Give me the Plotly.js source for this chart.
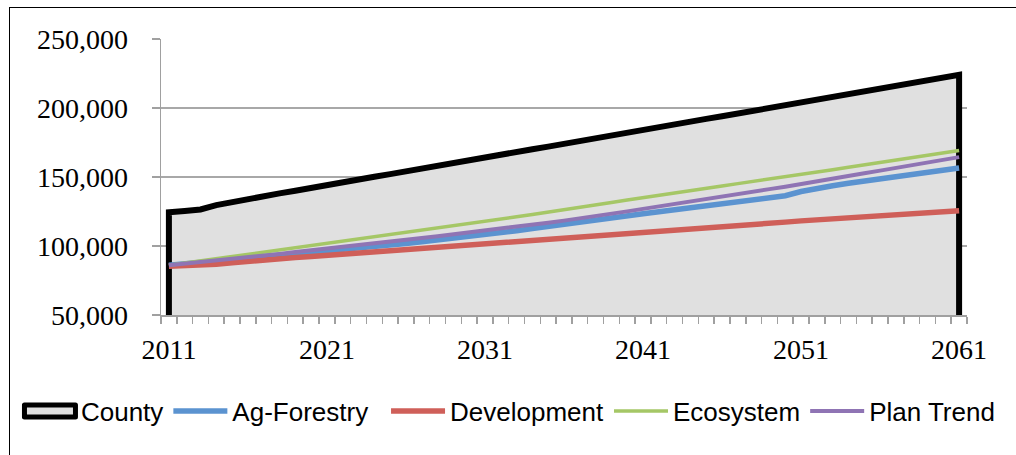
<!DOCTYPE html>
<html>
<head>
<meta charset="utf-8">
<script src="https://cdn.plot.ly/plotly-3.0.1.min.js"></script>
<style>
  html, body { margin: 0; padding: 0; overflow: hidden; background: #fff; }
  #wrap { position: relative; width: 1016px; height: 455px; overflow: hidden; }
  #chart { position: absolute; left: 0; top: 0; width: 1016px; height: 455px; }
  #frame { position: absolute; left: 9px; top: 7px; width: 1100px; height: 500px;
           border: 1px solid #000; pointer-events: none; box-sizing: border-box; }
</style>
</head>
<body>
<div id="wrap">
  <div id="chart"></div>
  <div id="frame"></div>
</div>
<script>
// Projection years 2011-2061
const years = [];
for (let y = 2011; y <= 2061; y++) years.push(y);

// County total
const county = [
  124500, 125400, 126500, 129600, 132000, 134100, 136000, 138100, 140000, 142200,
  144300, 146100, 148000, 150200, 152100, 154200, 156000, 158200, 160100, 162000,
  164000, 166100, 168000, 170100, 172000, 174100, 176000, 178000, 180100, 182000,
  184100, 186000, 188100, 190000, 192100, 194000, 196000, 198100, 200000, 202100,
  204000, 206000, 208100, 210000, 212100, 214000, 216000, 218100, 220000, 222000,
  224000
];

// Scenario series
const agForestry = [
  86000, 87000, 88100, 89200, 90300, 91400, 92500, 93400, 94400, 95300,
  96300, 97200, 98200, 99200, 100500, 101800, 103100, 104300, 105600, 106900,
  108300, 109700, 111100, 112600, 114000, 115400, 116900, 118500, 120100, 121700,
  123300, 124800, 126300, 127700, 129100, 130600, 132000, 133400, 134800, 136400,
  139500, 142000, 143700, 145500, 147200, 148700, 150300, 151800, 153400, 154900,
  156500
];

const development = [
  85300, 85500, 85900, 86800, 87800, 88900, 90100, 90800, 91600, 92400,
  93200, 94000, 94800, 95600, 96400, 97200, 98000, 98900, 99700, 100500,
  101300, 102100, 102900, 103700, 104500, 105300, 106100, 106900, 107600, 108400,
  109100, 109900, 110800, 111800, 112700, 113700, 114600, 115600, 116500, 117300,
  118200, 119000, 119900, 120700, 121500, 122200, 122900, 123500, 124100, 124800,
  125500
];

const ecosystem = [
  86000, 87600, 89200, 90800, 92400, 94000, 95600, 97100, 98600, 100100,
  101600, 103100, 104600, 106200, 107900, 109600, 111300, 113000, 114600, 116300,
  117900, 119600, 121200, 122900, 124500, 126200, 127900, 129700, 131500, 133300,
  135100, 136900, 138600, 140200, 141900, 143500, 145200, 146800, 148500, 150200,
  151900, 153600, 155300, 157000, 158700, 160400, 162200, 163900, 165700, 167400,
  169200
];

const planTrend = [
  86000, 87100, 88300, 89500, 90700, 91900, 93100, 94300, 95600, 96800,
  98100, 99300, 100600, 101900, 103200, 104500, 105800, 107100, 108400, 109800,
  111200, 112600, 114000, 115400, 116900, 118400, 119900, 121500, 123300, 125100,
  126900, 128600, 130400, 132200, 134000, 135800, 137600, 139400, 141200, 143000,
  144800, 146700, 148700, 150700, 152700, 154600, 156500, 158500, 160500, 162400,
  164400
];

const yMin = 50000, yMax = 250000;
const xTickVals = [2011, 2021, 2031, 2041, 2051, 2061];

// County drawn as an area down to the axis floor, outlined on top and both sides
const countyX = [years[0]].concat(years, [years[years.length - 1]]);
const countyY = [yMin].concat(county, [yMin]);

const traces = [
  {
    name: 'County', x: countyX, y: countyY, type: 'scatter', mode: 'lines',
    fill: 'toself', fillcolor: '#e0e0e0',
    line: { color: '#000000', width: 6 }, legend: 'legend'
  },
  { name: 'Ag-Forestry', x: years, y: agForestry, type: 'scatter', mode: 'lines',
    line: { color: '#5b93d0', width: 5.5 }, legend: 'legend' },
  { name: 'Development', x: years, y: development, type: 'scatter', mode: 'lines',
    line: { color: '#cf5f59', width: 5.5 }, legend: 'legend2' },
  { name: 'Ecosystem', x: years, y: ecosystem, type: 'scatter', mode: 'lines',
    line: { color: '#a5c766', width: 3.5 }, legend: 'legend2' },
  { name: 'Plan Trend', x: years, y: planTrend, type: 'scatter', mode: 'lines',
    line: { color: '#8f74b4', width: 4 }, legend: 'legend2' }
];

const legendFont = { family: 'Liberation Sans, Arial, sans-serif', size: 26, color: '#000' };
const legendBase = {
  orientation: 'h', xanchor: 'left', y: -0.348, yanchor: 'middle',
  font: legendFont, itemwidth: 54, traceorder: 'normal', bgcolor: 'rgba(0,0,0,0)'
};

const layout = {
  width: 1016, height: 455,
  margin: { l: 161, r: 49, t: 39, b: 140, pad: 0 },
  paper_bgcolor: 'rgba(0,0,0,0)',
  plot_bgcolor: '#ffffff',
  showlegend: true,
  legend: Object.assign({}, legendBase, { x: -0.1787 }),
  legend2: Object.assign({}, legendBase, { x: 0.2792 }),
  xaxis: {
    type: 'linear', range: [2010.5, 2061.5], fixedrange: true,
    tickmode: 'array', tickvals: xTickVals, ticktext: xTickVals.map(String),
    ticks: '', showgrid: false, zeroline: false,
    showline: true, linecolor: '#a0a0a0', linewidth: 1.5,
    ticklabelstandoff: 9,
    tickfont: { family: 'Liberation Serif, Times New Roman, serif', size: 28, color: '#000' },
    minor: { tick0: 2010.5, dtick: 1, ticks: 'outside', ticklen: 7, tickcolor: '#a0a0a0', tickwidth: 1.5, showgrid: false }
  },
  yaxis: {
    range: [yMin, yMax], dtick: 50000, tick0: 50000, tickformat: ',d',
    ticks: 'outside', ticklen: 8, tickcolor: '#a0a0a0', tickwidth: 1.5,
    showgrid: true, gridcolor: '#a8a8a8', gridwidth: 1.5, zeroline: false,
    showline: true, linecolor: '#a0a0a0', linewidth: 1.5,
    ticklabelstandoff: 18, fixedrange: true,
    tickfont: { family: 'Liberation Serif, Times New Roman, serif', size: 28, color: '#000' }
  }
};

// Area-style key for the County entry: a filled box with a heavy outline
function styleCountyKey(gd) {
  gd.querySelectorAll('.legend g.traces').forEach(function (g) {
    const label = g.querySelector('.legendtext');
    if (!label || label.textContent !== 'County') return;
    const box = 'M7.5,-6H58.5V6H7.5Z';
    const fill = g.querySelector('path.js-fill');
    if (fill) {
      fill.setAttribute('d', box);
      fill.style.fill = '#e0e0e0';
      fill.style.fillOpacity = 1;
    }
    const line = g.querySelector('path.js-line');
    if (line) {
      line.setAttribute('d', box);
      line.style.stroke = '#000';
      line.style.strokeWidth = '5px';
      line.style.strokeLinejoin = 'round';
      line.style.fill = fill ? 'none' : '#e0e0e0';
    }
  });
}

Plotly.newPlot('chart', traces, layout, { staticPlot: true, displayModeBar: false })
  .then(styleCountyKey);
</script>
</body>
</html>
